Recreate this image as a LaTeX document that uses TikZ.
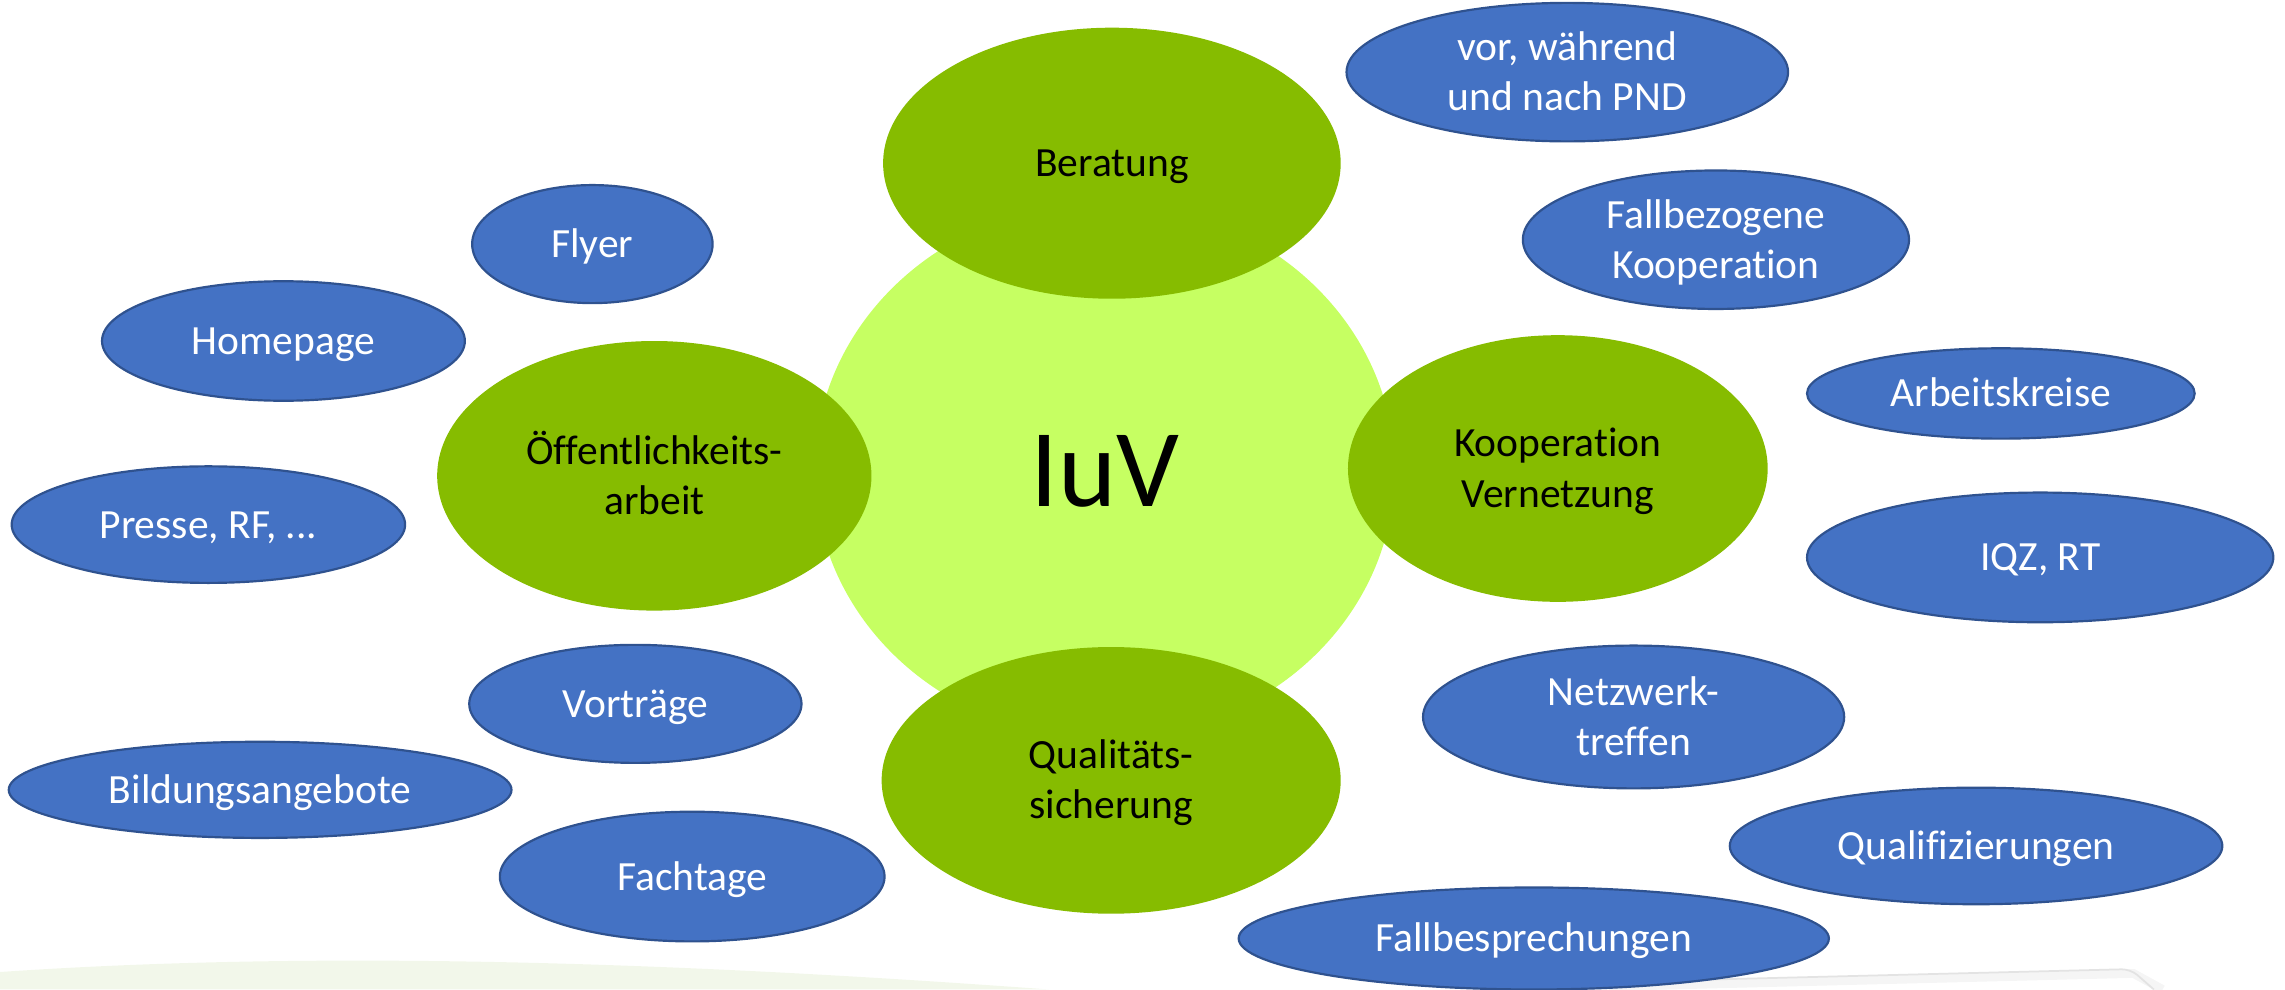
\documentclass[tikz,border=0pt]{standalone}
\usepackage{fontspec}
\setmainfont{Carlito}[Ligatures={NoCommon}]
\usetikzlibrary{shapes.geometric}
\definecolor{iuvgreen}{RGB}{134,188,0}
\definecolor{iuvlight}{RGB}{198,255,98}
\definecolor{iuvblue}{RGB}{68,114,196}
\definecolor{iuvedge}{RGB}{47,82,143}
\definecolor{iuvwave}{RGB}{242,247,234}
\newcommand{\twolines}[2]{\rule{0pt}{25.6pt}#1\\#2\rule[-7.1pt]{0pt}{7.1pt}}
\tikzset{every picture/.style={line width=0.75pt}}

\begin{document}
\begin{tikzpicture}[x=1pt,y=1pt,yscale=-1,
  core/.style={ellipse,fill=iuvlight,inner sep=0pt,font=\fontsize{76}{90}\selectfont,text height=68pt,text depth=19pt},
  field/.style={ellipse,fill=iuvgreen,inner sep=0pt,align=center,font=\fontsize{28.5}{34.5}\selectfont},
  item/.style={ellipse,fill=iuvblue,draw=iuvedge,line width=1.5pt,inner sep=0pt,text=white,align=center,font=\fontsize{28.5}{34.5}\selectfont},
  oneline/.style={text height=25.6pt,text depth=7.1pt}]
\useasboundingbox (0,0) rectangle (1568,679);

% faint slide background
\fill [iuvwave] (0,667) .. controls (220,652) and (460,660) .. (720,679) -- (0,679) -- cycle;
\draw [gray!8,line width=6pt] (1104,677) -- (1464,668) -- (1484,679);
\draw [gray!22,line width=1.2pt,rounded corners=6pt] (1100,674) -- (1462,665) -- (1478,679);

% centre
\node [core,minimum width=398,minimum height=368] (iuv) at (758,323) {IuV};

% fields of work
\node [field,oneline,minimum width=314,minimum height=186] (beratung) at (763,112) {Beratung};
\node [field,minimum width=298,minimum height=185] (oeff) at (449,326.5) {\twolines{Öffentlichkeits-}{arbeit}};
\node [field,minimum width=288,minimum height=183] (koop) at (1069,321.5) {\twolines{Kooperation}{Vernetzung}};
\node [field,minimum width=315,minimum height=183] (qual) at (762.5,535.5) {\twolines{Qualitäts-}{sicherung}};

% Beratung
\node [item,minimum width=303,minimum height=89] (pnd) at (1075.5,49.5) {\twolines{vor, während}{und nach PND}};

% Oeffentlichkeitsarbeit
\node [item,oneline,minimum width=165,minimum height=81] (flyer) at (406.5,167.5) {Flyer};
\node [item,oneline,minimum width=249,minimum height=82] (homepage) at (194.5,234) {Homepage};
\node [item,oneline,minimum width=270,minimum height=80] (presse) at (143,360) {Presse, RF, ...};
\node [item,oneline,minimum width=228,minimum height=81] (vortraege) at (436,483) {Vorträge};
\node [item,oneline,minimum width=345,minimum height=66] (bildung) at (178.5,542) {Bildungsangebote};
\node [item,oneline,minimum width=264,minimum height=89] (fachtage) at (475,601.5) {Fachtage};

% Kooperation / Vernetzung
\node [item,minimum width=265,minimum height=93] (fallkoop) at (1177.5,164.5) {\twolines{Fallbezogene}{Kooperation}};
\node [item,oneline,minimum width=266,minimum height=62] (arbeitskreise) at (1373,270) {Arbeitskreise};
\node [item,oneline,minimum width=320,minimum height=89] (iqz) at (1400,382.5) {IQZ, RT};
\node [item,minimum width=289,minimum height=98] (netzwerk) at (1121,492) {\twolines{Netzwerk-}{treffen}};

% Qualitaetssicherung
\node [item,oneline,minimum width=338,minimum height=80] (qualif) at (1356,580.5) {Qualifizierungen};
\node [item,oneline,minimum width=405,minimum height=70] (fallbespr) at (1052.5,644) {Fallbesprechungen};
\end{tikzpicture}
\end{document}
